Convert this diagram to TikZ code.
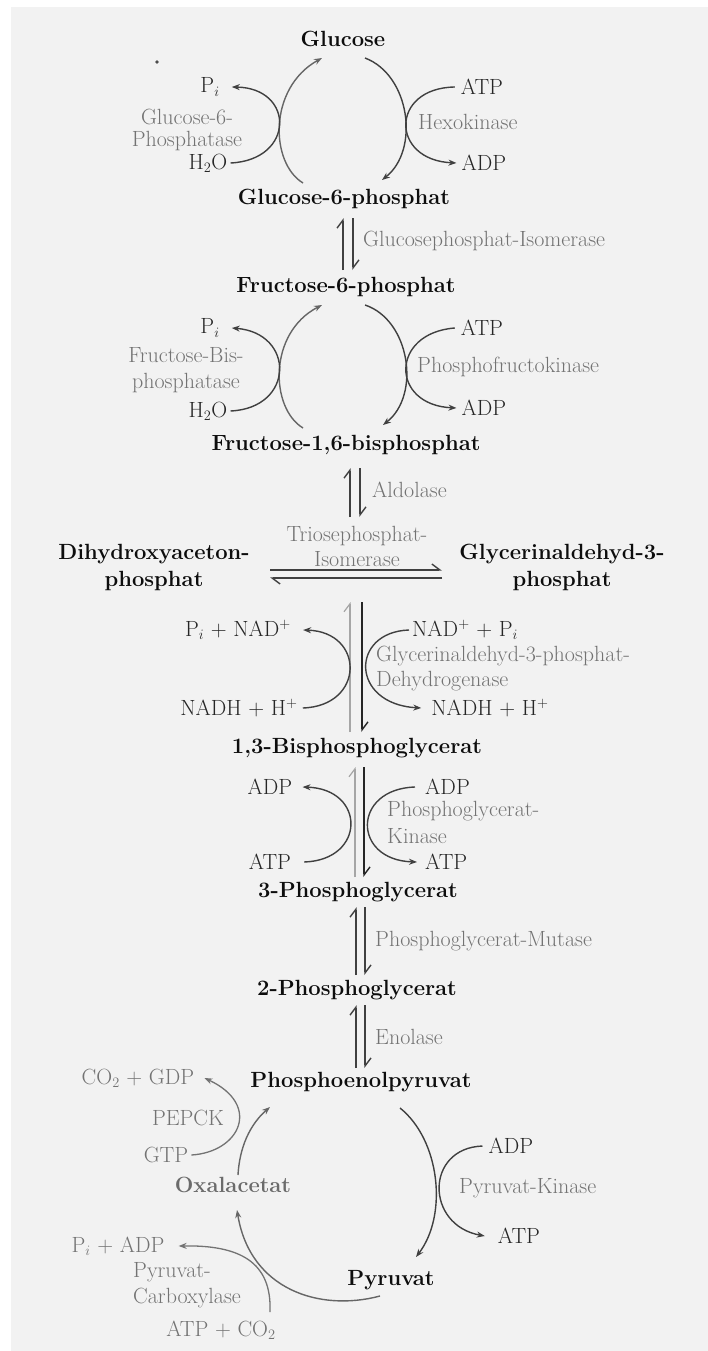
\documentclass[tikz,border=0pt]{standalone}
\usetikzlibrary{arrows.meta}
\begin{document}
\begin{tikzpicture}[x=1pt,y=-1pt,
  met/.style={font=\fontsize{22}{27}\selectfont\bfseries, text=black!95, inner sep=0pt},
  enz/.style={font=\fontsize{22}{25}\selectfont, text=black!55, inner sep=0pt},
  cof/.style={font=\fontsize{22}{26}\selectfont, text=black!85, inner sep=0pt},
  gcof/.style={font=\fontsize{22}{26}\selectfont, text=black!55, inner sep=0pt},
  rxn/.style={line width=1.4pt, draw=black!75},
  grxn/.style={line width=1.3pt, draw=black!55},
  tip/.style={-{Stealth[length=8pt,width=6pt]}},
  harp/.style={line width=1.4pt, draw=black!75, -{Straight Barb[left,length=8pt,width=12pt]}},
  lharp/.style={line width=1.2pt, draw=black!35, -{Straight Barb[left,length=8pt,width=12pt]}},
]
\fill[white] (0,0) rectangle (708,1351);
\fill[black!5] (11,7) rectangle (708,1351);
\useasboundingbox (0,0) rectangle (708,1351);
\fill[black!70] (157,62) circle[radius=1.8pt];

% ---------- metabolites ----------
\node[met] (glc) at (343,39) {Glucose};
\node[met] (g6p) at (344,199) {Glucose-6-phosphat};
\node[met] (f6p) at (346,287) {Fructose-6-phosphat};
\node[met] (fbp) at (346,445) {Fructose-1,6-bisphosphat};
\node[met,align=center] (dhap) at (154,567) {Dihydroxyaceton-\\phosphat};
\node[met,align=center] (gap) at (562,567) {Glycerinaldehyd-3-\\phosphat};
\node[met] (bpg) at (357,748) {1,3-Bisphosphoglycerat};
\node[met] (pga3) at (358,892) {3-Phosphoglycerat};
\node[met] (pga2) at (357,990) {2-Phosphoglycerat};
\node[met] (pep) at (361,1082) {Phosphoenolpyruvat};
\node[met] (pyr) at (391,1280) {Pyruvat};
\node[met,text=black!58] (oaa) at (233,1185) {Oxalacetat};

% ---------- hexokinase / G6Pase cycle ----------
\coordinate (g6p-l) at (303,183); \coordinate (glc-l) at (322,58);
\coordinate (glc-r) at (365,58);  \coordinate (g6p-r) at (382,180);
\draw[rxn,tip,draw=black!60] (g6p-l) .. controls (270,163) and (268,88) .. (glc-l);
\draw[rxn,tip] (glc-r) .. controls (410,75) and (420,150) .. (g6p-r);
\node[cof] (pi1) at (210,87) {P$_i$};
\node[enz,align=center,font=\fontsize{22}{22}\selectfont] (g6pase) at (187,130) {Glucose-6-\\Phosphatase};
\node[cof] (h2o1) at (208,163) {H$_2$O};
\node[cof] (atp1) at (482,87) {ATP};
\node[enz,anchor=west] (hk) at (418,122) {Hexokinase};
\node[cof] (adp1) at (484,163) {ADP};
\draw[rxn,tip] ([xshift=3pt]h2o1.east) .. controls (295,160) and (295,88) .. ([xshift=12pt]pi1.east);
\draw[rxn,tip] ([xshift=-6pt]atp1.west) .. controls (390,88) and (390,160) .. ([xshift=-5pt]adp1.west);

% ---------- glucosephosphate isomerase ----------
\coordinate (gpi-lb) at (343,270); \coordinate (gpi-lt) at (343,218);
\coordinate (gpi-rt) at (353,218); \coordinate (gpi-rb) at (353,270);
\draw[harp] (gpi-lb) -- (gpi-lt);
\draw[harp] (gpi-rt) -- (gpi-rb);
\node[enz,anchor=west] (gpi) at (363,241) {Glucosephosphat-Isomerase};

% ---------- PFK / FBPase cycle ----------
\coordinate (fbp-l) at (303,428); \coordinate (f6p-l) at (322,305);
\coordinate (f6p-r) at (365,305); \coordinate (fbp-r) at (383,425);
\draw[rxn,tip,draw=black!60] (fbp-l) .. controls (270,408) and (268,333) .. (f6p-l);
\draw[rxn,tip] (f6p-r) .. controls (410,320) and (421,395) .. (fbp-r);
\node[cof] (pi2) at (210,328) {P$_i$};
\node[enz,align=center,font=\fontsize{22}{26}\selectfont] (fbpase) at (186,370) {Fructose-Bis-\\phosphatase};
\node[cof] (h2o2) at (208,411) {H$_2$O};
\node[cof] (atp2) at (482,328) {ATP};
\node[enz,anchor=west] (pfk) at (417,367) {Phosphofructokinase};
\node[cof] (adp2) at (484,408) {ADP};
\draw[rxn,tip] ([xshift=3pt]h2o2.east) .. controls (295,408) and (295,333) .. ([xshift=12pt]pi2.east);
\draw[rxn,tip] ([xshift=-6pt]atp2.west) .. controls (390,333) and (390,405) .. ([xshift=-5pt]adp2.west);

% ---------- aldolase ----------
\coordinate (ald-lb) at (350,517); \coordinate (ald-lt) at (350,468);
\coordinate (ald-rt) at (360,468); \coordinate (ald-rb) at (360,517);
\draw[harp] (ald-lb) -- (ald-lt);
\draw[harp] (ald-rt) -- (ald-rb);
\node[enz,anchor=west] (ald) at (372,490) {Aldolase};

% ---------- triosephosphate isomerase ----------
\node[enz,align=center] (tpi) at (357,546) {Triosephosphat-\\Isomerase};
\coordinate (tpi-tl) at (270,570); \coordinate (tpi-tr) at (442,570);
\coordinate (tpi-br) at (442,578); \coordinate (tpi-bl) at (270,578);
\draw[harp] (tpi-tl) -- (tpi-tr);
\draw[harp] (tpi-br) -- (tpi-bl);

% ---------- GAPDH ----------
\coordinate (gd-lb) at (350,732); \coordinate (gd-lt) at (350,602);
\coordinate (gd-rt) at (362,602); \coordinate (gd-rb) at (362,732);
\draw[lharp] (gd-lb) -- (gd-lt);
\draw[harp,draw=black!85] (gd-rt) -- (gd-rb);
\node[cof] (pinad) at (238,630) {P$_i$ + NAD$^+$};
\node[cof,anchor=west] (nadpi) at (412,630) {NAD$^+$ + P$_i$};
\node[enz,anchor=west,align=left] (gapdh) at (376,669) {Glycerinaldehyd-3-phosphat-\\Dehydrogenase};
\node[cof] (nadh1) at (239,708) {NADH + H$^+$};
\node[cof] (nadh2) at (490,708) {NADH + H$^+$};
\draw[rxn,tip] ([xshift=5pt]nadh1.east) .. controls (365,706) and (365,632) .. ([xshift=12pt]pinad.east);
\draw[rxn,tip] ([xshift=-3pt]nadpi.west) .. controls (350,632) and (350,704) .. ([xshift=-10pt]nadh2.west);

% ---------- PGK ----------
\coordinate (pk-lb) at (355,877); \coordinate (pk-lt) at (355,767);
\coordinate (pk-rt) at (364,767); \coordinate (pk-rb) at (364,877);
\draw[lharp] (pk-lb) -- (pk-lt);
\draw[harp,draw=black!85] (pk-rt) -- (pk-rb);
\node[cof] (adp3) at (270,787) {ADP};
\node[cof,anchor=west] (adp4) at (425,787) {ADP};
\node[enz,anchor=west,align=left,font=\fontsize{22}{27}\selectfont] (pgk) at (387,822) {Phosphoglycerat-\\Kinase};
\node[cof] (atp3) at (270,862) {ATP};
\node[cof,anchor=west] (atp4) at (425,862) {ATP};
\draw[rxn,tip] ([xshift=13pt]atp3.east) .. controls (366,860) and (366,789) .. ([xshift=10pt]adp3.east);
\draw[rxn,tip] ([xshift=-10pt]adp4.west) .. controls (352,789) and (352,860) .. ([xshift=-8pt]atp4.west);

% ---------- mutase ----------
\coordinate (mu-lb) at (356,975); \coordinate (mu-lt) at (356,907);
\coordinate (mu-rt) at (365,907); \coordinate (mu-rb) at (365,975);
\draw[harp] (mu-lb) -- (mu-lt);
\draw[harp] (mu-rt) -- (mu-rb);
\node[enz,anchor=west] (pgm) at (375,941) {Phosphoglycerat-Mutase};

% ---------- enolase ----------
\coordinate (en-lb) at (356,1068); \coordinate (en-lt) at (356,1005);
\coordinate (en-rt) at (365,1005); \coordinate (en-rb) at (365,1068);
\draw[harp] (en-lb) -- (en-lt);
\draw[harp] (en-rt) -- (en-rb);
\node[enz,anchor=west] (eno) at (375,1037) {Enolase};

% ---------- pyruvate kinase ----------
\coordinate (pep-r) at (400,1108); \coordinate (pyr-t) at (416,1257);
\draw[rxn,tip] (pep-r) .. controls (440,1140) and (448,1215) .. (pyr-t);
\node[cof] (adp5) at (511,1146) {ADP};
\node[enz,anchor=west] (pyk) at (459,1188) {Pyruvat-Kinase};
\node[cof] (atp5) at (519,1236) {ATP};
\draw[rxn,tip] ([xshift=-6pt]adp5.west) .. controls (425,1148) and (425,1225) .. ([xshift=-13pt]atp5.west);

% ---------- PEPCK ----------
\node[gcof] (co2gdp) at (138,1078) {CO$_2$ + GDP};
\node[enz] (pepck) at (188,1118) {PEPCK};
\node[gcof] (gtp) at (166,1155) {GTP};
\coordinate (pep-l) at (270,1107);
\draw[grxn,tip] ([xshift=3pt]gtp.east) .. controls (240,1152) and (262,1105) .. ([xshift=10pt]co2gdp.east);
\draw[rxn,tip,draw=black!60] ([xshift=5pt,yshift=2pt]oaa.north) .. controls (240,1140) and (255,1120) .. (pep-l);

% ---------- pyruvate carboxylase ----------
\coordinate (pyr-bl) at (380,1296); \coordinate (oaa-b) at (237,1210);
\draw[rxn,tip,draw=black!60] (pyr-bl) .. controls (320,1312) and (250,1290) .. (oaa-b);
\node[gcof] (piadp) at (118,1246) {P$_i$ + ADP};
\node[enz,anchor=west,align=left,font=\fontsize{22}{26}\selectfont] (pc) at (133,1285) {Pyruvat-\\Carboxylase};
\node[gcof] (atpco2) at (221,1330) {ATP + CO$_2$};
\coordinate (pc-s) at (270,1312);
\draw[grxn,tip] (pc-s) .. controls (272,1262) and (240,1245) .. ([xshift=14pt]piadp.east);
\end{tikzpicture}
\end{document}
